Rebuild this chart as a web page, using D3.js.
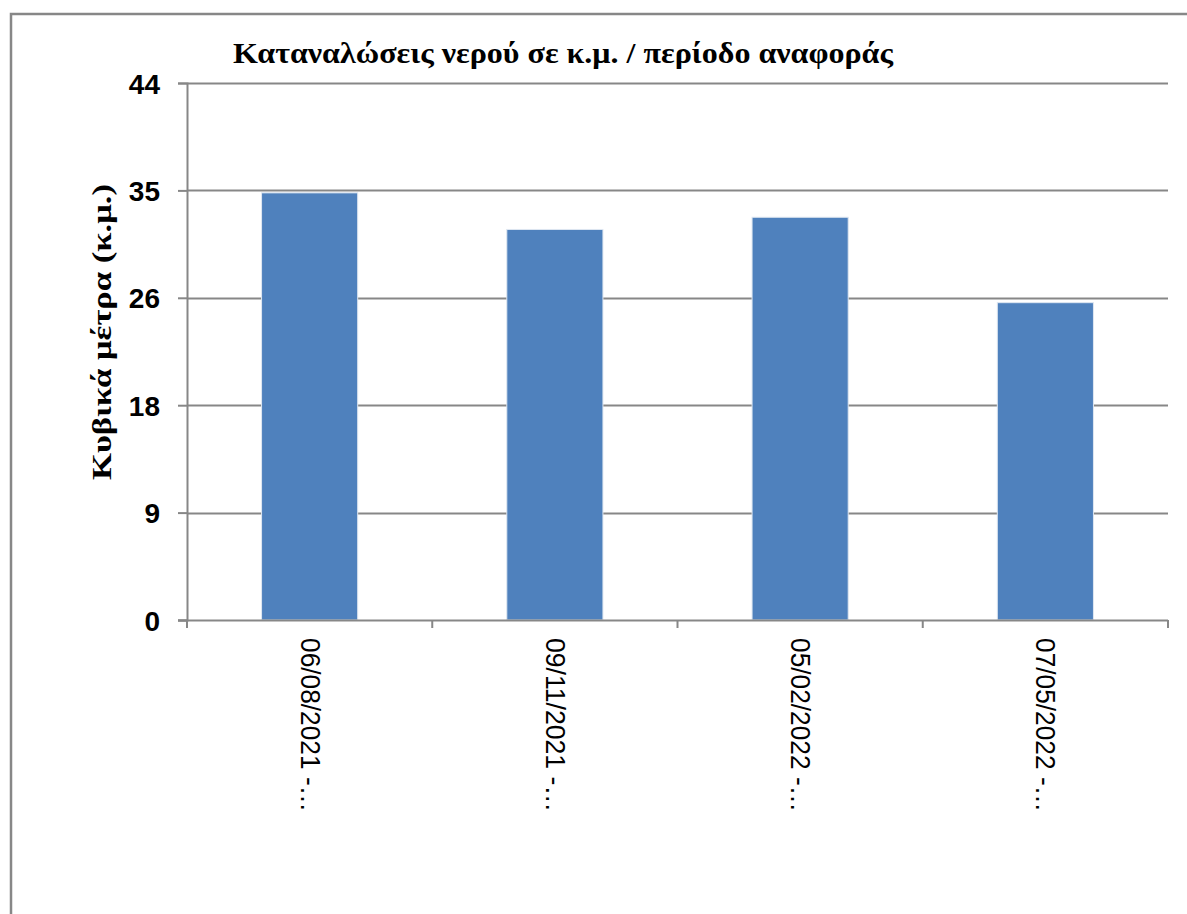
<!DOCTYPE html>
<html>
<head>
<meta charset="utf-8">
<script src="https://cdn.jsdelivr.net/npm/d3@7"></script>
<style>
  html, body { margin: 0; padding: 0; background: #fff; }
  svg { display: block; }
</style>
</head>
<body>
<svg id="chart" width="1187" height="914"></svg>
<script>
// Water consumption per reporting period (cubic metres)
const categories = ["06/08/2021 -…", "09/11/2021 -…", "05/02/2022 -…", "07/05/2022 -…"];
const values = [35, 32, 33, 26];
const tickValues = [0, 8.8, 17.6, 26.4, 35.2, 44];
const tickLabels = ["0", "9", "18", "26", "35", "44"];
const titleText = "Καταναλώσεις νερού σε κ.μ. / περίοδο αναφοράς";
const yTitleText = "Κυβικά μέτρα (κ.μ.)";

const svg = d3.select("#chart");
const grid = "#878787";

const plot = { left: 187, right: 1168, top: 83, bottom: 620 };

const x = d3.scaleBand()
  .domain(categories)
  .range([plot.left, plot.right])
  .paddingInner(0.608)
  .paddingOuter(0.304);

const y = d3.scaleLinear().domain([0, 44]).range([plot.bottom, plot.top]);

// outer chart frame
svg.append("rect")
  .attr("x", 11).attr("y", 14)
  .attr("width", 1300).attr("height", 1000)
  .attr("fill", "none").attr("stroke", grid).attr("stroke-width", 2.5);

// horizontal gridlines
svg.append("g").selectAll("line")
  .data(tickValues.slice(1))
  .join("line")
  .attr("x1", plot.left).attr("x2", plot.right)
  .attr("y1", d => Math.round(y(d)) + 0.5).attr("y2", d => Math.round(y(d)) + 0.5)
  .attr("stroke", grid).attr("stroke-width", 2);

// bars
svg.append("g").selectAll("rect")
  .data(values)
  .join("rect")
  .attr("x", (d, i) => x(categories[i]))
  .attr("y", d => y(d))
  .attr("width", x.bandwidth())
  .attr("height", d => y(0) - y(d))
  .attr("fill", "#4f81bd")
  .attr("stroke", "#dfe7f1")
  .attr("stroke-width", 1);

// y axis
const yAxis = d3.axisLeft(y)
  .tickValues(tickValues)
  .tickFormat((d, i) => tickLabels[i])
  .tickSize(9)
  .tickPadding(18);

const gy = svg.append("g")
  .attr("transform", `translate(${plot.left},0)`)
  .call(yAxis);
gy.select(".domain").attr("stroke", grid).attr("stroke-width", 2);
gy.selectAll(".tick line").attr("stroke", grid).attr("stroke-width", 2);
gy.selectAll(".tick text")
  .attr("font-family", "'Liberation Sans', Arial, sans-serif")
  .attr("font-weight", "bold")
  .attr("font-size", 28)
  .attr("fill", "#000")
  .attr("dy", "0.36em");

// x axis baseline and category boundary ticks
const boundaries = categories.map(c => x(c) - x.step() * x.paddingInner() / 2)
  .concat([plot.right]);
svg.append("line")
  .attr("x1", plot.left - 9).attr("x2", plot.right)
  .attr("y1", plot.bottom + 0.5).attr("y2", plot.bottom + 0.5)
  .attr("stroke", grid).attr("stroke-width", 2);
svg.append("g").selectAll("line")
  .data(boundaries)
  .join("line")
  .attr("x1", d => d).attr("x2", d => d)
  .attr("y1", plot.bottom).attr("y2", plot.bottom + 8)
  .attr("stroke", grid).attr("stroke-width", 2);

// category labels, rotated to read downward
svg.append("g").selectAll("text")
  .data(categories)
  .join("text")
  .attr("transform", d => `translate(${x(d) + x.bandwidth() / 2 + 1},638) rotate(90)`)
  .attr("dy", "0.36em")
  .attr("text-anchor", "start")
  .attr("font-family", "'Liberation Sans', Arial, sans-serif")
  .attr("font-size", 28)
  .attr("textLength", 174)
  .attr("lengthAdjust", "spacingAndGlyphs")
  .attr("fill", "#000")
  .text(d => d);

// chart title
svg.append("text")
  .attr("x", 233).attr("y", 63)
  .attr("font-family", "'Liberation Serif', 'Times New Roman', serif")
  .attr("font-weight", "bold")
  .attr("font-size", 29)
  .attr("textLength", 660)
  .attr("lengthAdjust", "spacingAndGlyphs")
  .attr("fill", "#000")
  .text(titleText);

// y axis title
svg.append("text")
  .attr("transform", "translate(111,480) rotate(-90)")
  .attr("font-family", "'Liberation Serif', 'Times New Roman', serif")
  .attr("font-weight", "bold")
  .attr("font-size", 28)
  .attr("textLength", 296)
  .attr("lengthAdjust", "spacingAndGlyphs")
  .attr("fill", "#000")
  .text(yTitleText);
</script>
</body>
</html>
